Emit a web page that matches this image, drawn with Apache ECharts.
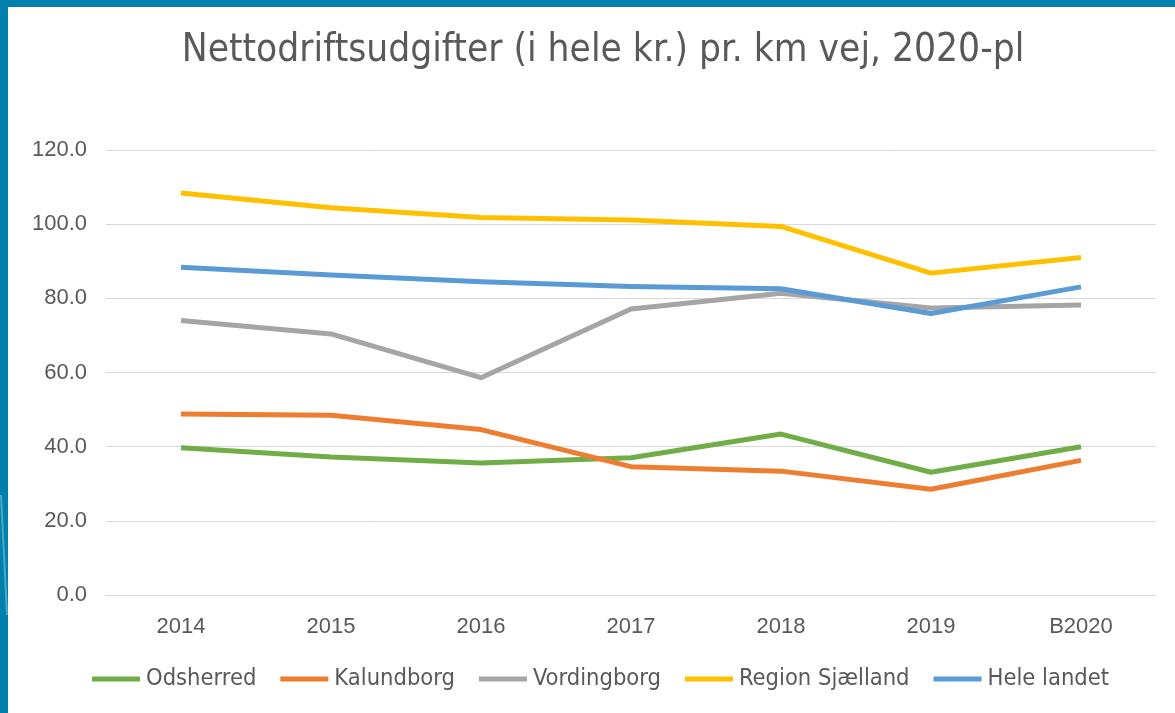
<!DOCTYPE html>
<html>
<head>
<meta charset="utf-8">
<script src="https://cdn.jsdelivr.net/npm/echarts@6/dist/echarts.min.js"></script>
<style>
  html, body { margin: 0; padding: 0; background: #fff; }
  #chart { width: 1175px; height: 713px; }
</style>
</head>
<body>
<div id="chart"></div>
<script>
// kategorier og serier
var years = ['2014', '2015', '2016', '2017', '2018', '2019', 'B2020']
var odsherred = [39.7, 37.2, 35.6, 37.0, 43.4, 33.1, 40.0]
var kalundborg = [48.8, 48.5, 44.6, 34.6, 33.4, 28.5, 36.3]
var vordingborg = [74.0, 70.4, 58.6, 77.1, 81.4, 77.4, 78.2]
var regionSjaelland = [108.4, 104.4, 101.8, 101.1, 99.4, 86.8, 91.0]
var heleLandet = [88.4, 86.3, 84.5, 83.2, 82.6, 75.9, 83.1]

var seriesNames = ['Odsherred', 'Kalundborg', 'Vordingborg', 'Region Sjælland', 'Hele landet']
var seriesColors = ['#70AD47', '#ED7D31', '#A5A5A5', '#FFC000', '#5B9BD5']
var yTicks = { min: 0, max: 120, interval: 20 }

var narrow = '"Liberation Sans Narrow", "DejaVu Sans Condensed", "Roboto", sans-serif'
var numFont = '"Liberation Sans", "Roboto", sans-serif'
var txt = '#595959'

var chart = echarts.init(document.getElementById('chart'))

var seriesData = [odsherred, kalundborg, vordingborg, regionSjaelland, heleLandet]
var series = seriesData.map(function (d, i) {
  return {
    name: seriesNames[i],
    type: 'line',
    data: d,
    symbol: 'none',
    lineStyle: { width: 5, color: seriesColors[i], join: 'round' },
    itemStyle: { color: seriesColors[i] }
  }
})

var option = {
  backgroundColor: '#fff',
  animation: false,
  textStyle: { fontFamily: narrow },
  title: {
    text: 'Nettodriftsudgifter (i hele kr.) pr. km vej, 2020-pl',
    left: 598,
    textAlign: 'center',
    top: 26,
    textStyle: { fontFamily: narrow, fontSize: 38.5, fontWeight: 'normal', color: txt }
  },
  graphic: [
    // blå ramme øverst og til venstre
    { type: 'rect', left: 0, top: 0, shape: { width: 1175, height: 7 }, style: { fill: '#0080AB' }, z: 100 },
    { type: 'rect', left: 0, top: 0, shape: { width: 8, height: 713 }, style: { fill: '#0080AB' }, z: 100 },
    { type: 'line', shape: { x1: 1, y1: 495, x2: 7, y2: 615 }, style: { stroke: 'rgba(255,255,255,0.3)', lineWidth: 2 }, z: 101 }
  ],
  legend: {
    data: seriesNames,
    bottom: 17,
    left: 87,
    icon: 'rect',
    itemWidth: 48,
    itemHeight: 5,
    itemGap: 24,
    textStyle: { fontFamily: narrow, fontSize: 23.5, color: txt, padding: [0, 0, 0, 1] }
  },
  grid: {
    left: 106,
    right: 19,
    top: 150,
    bottom: 118
  },
  xAxis: {
    type: 'category',
    data: years,
    boundaryGap: true,
    axisLine: { show: true, lineStyle: { color: '#D9D9D9', width: 1 } },
    axisTick: { show: false },
    axisLabel: { color: txt, fontSize: 22, margin: 21, fontFamily: numFont }
  },
  yAxis: {
    type: 'value',
    min: yTicks.min,
    max: yTicks.max,
    interval: yTicks.interval,
    axisLine: { show: false },
    axisTick: { show: false },
    axisLabel: {
      color: txt, fontSize: 22, margin: 19, fontFamily: numFont,
      formatter: function (v) { return v.toFixed(1) }
    },
    splitLine: { lineStyle: { color: '#D9D9D9', width: 1 } }
  },
  series: series
}

chart.setOption(option)
</script>
</body>
</html>
